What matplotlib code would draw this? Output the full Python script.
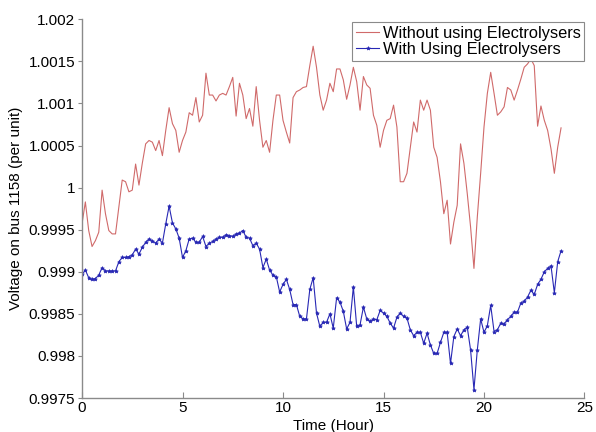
import numpy as np
import matplotlib
matplotlib.use('Agg')
import matplotlib.pyplot as plt
from matplotlib.ticker import FuncFormatter

plt.rcParams['font.family'] = ['Liberation Sans', 'DejaVu Sans']

# time stamps, every 10 minutes over the day
hours = np.arange(144) / 6.0

without_elec = [
    0.99957, 0.99983, 0.99949, 0.99930, 0.99937, 0.99947, 0.99997, 0.99969, 0.99949, 0.99945,
    0.99945, 0.99977, 1.00009, 1.00007, 0.99995, 0.99997, 1.00028, 1.00003, 1.00029, 1.00052,
    1.00056, 1.00054, 1.00044, 1.00056, 1.00038, 1.00068, 1.00095, 1.00076, 1.00068, 1.00042,
    1.00056, 1.00066, 1.00089, 1.00086, 1.00107, 1.00078, 1.00086, 1.00136, 1.00110, 1.00110,
    1.00103, 1.00110, 1.00112, 1.00110, 1.00120, 1.00131, 1.00085, 1.00124, 1.00110, 1.00082,
    1.00094, 1.00073, 1.00120, 1.00080, 1.00048, 1.00056, 1.00042, 1.00080, 1.00110, 1.00110,
    1.00080, 1.00066, 1.00053, 1.00107, 1.00114, 1.00116, 1.00119, 1.00120, 1.00145, 1.00168,
    1.00143, 1.00110, 1.00092, 1.00104, 1.00124, 1.00114, 1.00141, 1.00141, 1.00128, 1.00105,
    1.00122, 1.00143, 1.00126, 1.00092, 1.00132, 1.00122, 1.00118, 1.00086, 1.00074, 1.00048,
    1.00068, 1.00080, 1.00082, 1.00098, 1.00072, 1.00007, 1.00007, 1.00017, 1.00048, 1.00078,
    1.00066, 1.00104, 1.00092, 1.00104, 1.00092, 1.00048, 1.00036, 1.00007, 0.99969, 0.99985,
    0.99933, 0.99959, 0.99979, 1.00052, 1.00029, 0.99993, 0.99953, 0.99904, 0.99965, 1.00017,
    1.00072, 1.00112, 1.00137, 1.00112, 1.00086, 1.00090, 1.00096, 1.00119, 1.00116, 1.00104,
    1.00116, 1.00129, 1.00143, 1.00147, 1.00153, 1.00145, 1.00073, 1.00097, 1.00080, 1.00068,
    1.00046, 1.00017, 1.00048, 1.00071,
]

with_elec = [
    0.99897, 0.99902, 0.99893, 0.99891, 0.99892, 0.99896, 0.99905, 0.99901, 0.99901, 0.99901,
    0.99901, 0.99912, 0.99917, 0.99917, 0.99918, 0.99920, 0.99927, 0.99921, 0.99929, 0.99935,
    0.99939, 0.99937, 0.99934, 0.99939, 0.99934, 0.99957, 0.99978, 0.99958, 0.99951, 0.99940,
    0.99917, 0.99925, 0.99939, 0.99940, 0.99935, 0.99935, 0.99942, 0.99930, 0.99934, 0.99936,
    0.99939, 0.99941, 0.99941, 0.99944, 0.99943, 0.99942, 0.99945, 0.99946, 0.99949, 0.99941,
    0.99940, 0.99931, 0.99934, 0.99927, 0.99905, 0.99915, 0.99902, 0.99896, 0.99894, 0.99876,
    0.99885, 0.99891, 0.99879, 0.99861, 0.99861, 0.99847, 0.99844, 0.99844, 0.99879, 0.99893,
    0.99851, 0.99835, 0.99840, 0.99840, 0.99850, 0.99833, 0.99869, 0.99864, 0.99853, 0.99832,
    0.99840, 0.99882, 0.99835, 0.99837, 0.99858, 0.99844, 0.99841, 0.99844, 0.99843, 0.99854,
    0.99851, 0.99847, 0.99839, 0.99833, 0.99846, 0.99851, 0.99847, 0.99845, 0.99831, 0.99824,
    0.99828, 0.99828, 0.99815, 0.99827, 0.99813, 0.99803, 0.99803, 0.99816, 0.99828, 0.99828,
    0.99791, 0.99823, 0.99832, 0.99824, 0.99831, 0.99834, 0.99807, 0.99760, 0.99807, 0.99844,
    0.99828, 0.99836, 0.99860, 0.99829, 0.99831, 0.99839, 0.99838, 0.99843, 0.99847, 0.99852,
    0.99852, 0.99863, 0.99865, 0.99870, 0.99878, 0.99873, 0.99885, 0.99891, 0.99900, 0.99904,
    0.99907, 0.99875, 0.99912, 0.99925,
]

x_ticks = [0, 5, 10, 15, 20, 25]
y_ticks = [0.9975, 0.998, 0.9985, 0.999, 0.9995, 1.0, 1.0005, 1.001, 1.0015, 1.002]

fig = plt.figure(figsize=(5.96, 4.32), dpi=100)
ax = fig.add_axes([0.1376, 0.0787, 0.8431, 0.8766])

ax.plot(hours, without_elec, color='#d06a6a', lw=0.8,
        label='Without using Electrolysers')
ax.plot(hours, with_elec, color='#2828b4', lw=0.8, marker='*', ms=2.8,
        markeredgewidth=0.5, label='With Using Electrolysers')

ax.set_xlim(0, 25)
ax.set_ylim(0.9975, 1.002)
ax.set_xticks(x_ticks)
ax.set_yticks(y_ticks)
ax.yaxis.set_major_formatter(FuncFormatter(lambda v, p: '{:g}'.format(round(v, 5))))

for s in ['top', 'right']:
    ax.spines[s].set_visible(False)
for s in ['left', 'bottom']:
    ax.spines[s].set_color('#8a8a8a')
    ax.spines[s].set_linewidth(1.0)
ax.tick_params(axis='x', direction='in', length=4, color='#8a8a8a', labelsize=11, pad=2)
ax.tick_params(axis='y', direction='out', length=3, color='#8a8a8a', labelsize=11, pad=2)

ax.set_xlabel('Time (Hour)', fontsize=11, labelpad=3)
ax.set_ylabel('Voltage on bus 1158 (per unit)', fontsize=11, labelpad=4)

leg = ax.legend(loc='upper right', bbox_to_anchor=(1.0, 0.993), fontsize=11.8,
                fancybox=False, framealpha=1, edgecolor='#8a8a8a',
                handlelength=1.4, handletextpad=0.2, labelspacing=0.05,
                borderpad=0.25, borderaxespad=0.0)
leg.get_frame().set_linewidth(0.8)

plt.savefig('out.png', dpi=100)
